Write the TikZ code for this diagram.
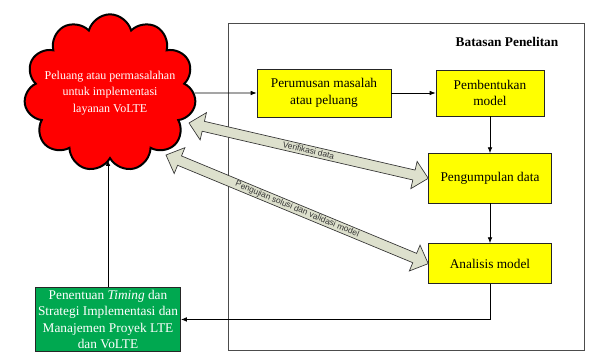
\documentclass[tikz,border=0pt]{standalone}
\usepackage{fontspec}
\setmainfont{Liberation Serif}
\newfontfamily\labelfont{Liberation Sans}
\usetikzlibrary{shapes.symbols,arrows.meta,calc}
\definecolor{cloudred}{RGB}{255,0,0}
\definecolor{boxyellow}{RGB}{255,255,0}
\definecolor{boxgreen}{RGB}{0,168,80}
\definecolor{flowgray}{RGB}{221,224,205}
% block arrow with two heads between two points, label on it
\newcommand{\flowarrow}[3]{%
\path[flow] let \p1=(#1), \p2=(#2), \n1={atan2(\y2-\y1,\x2-\x1)}, \n2={veclen(\x2-\x1,\y2-\y1)} in
  [shift={(\p1)}, rotate=\n1] (0,0) -- (11pt,10.5pt) -- (11pt,3.8pt) -- ({\n2-11pt},3.8pt) -- ({\n2-11pt},10.5pt)
  -- ({\n2},0pt) -- ({\n2-11pt},-10.5pt) -- ({\n2-11pt},-3.8pt) -- (11pt,-3.8pt) -- (11pt,-10.5pt) -- cycle;
\path (#1) -- (#2) node[midway, flow label] {#3};}
\begin{document}
\begin{tikzpicture}
[x=0.75pt, y=0.75pt, node distance=64pt, font=\fontsize{10}{12.4}\selectfont, >={Latex[length=4.5pt,width=3.5pt]}]
\tikzstyle{stagebox}=[rectangle, draw=black!85, fill=boxyellow, line width=0.6pt, align=center, inner sep=2pt]
\tikzstyle{link}=[->, line width=0.6pt]
\tikzstyle{flow}=[draw=black!80, fill=flowgray, line width=0.5pt]
\tikzstyle{flow label}=[font=\labelfont\fontsize{6.3}{7}\selectfont, text=black!80, sloped, inner sep=0pt]

\clip (0,0) rectangle (589,-352);
\draw[black!70, line width=0.6pt] (228,-23) rectangle (584,-350);
\node[anchor=east, font=\bfseries\fontsize{10}{12}\selectfont] (batas) at (563,-42) {Batasan Penelitan};

\node[cloud, cloud puffs=11, aspect=1.07, draw, line width=1.5pt, fill=cloudred,
      minimum width=129pt, minimum height=118pt, inner sep=0pt] (peluang) at (110,-93) {};
\node[text=white, align=center, font=\fontsize{9}{12.4}\selectfont] (peluangtext) at (peluang.center)
      {Peluang atau permasalahan\\ untuk implementasi\\ layanan VoLTE};
\coordinate (verifend) at (189,-123);
\coordinate (ujiend) at (166,-155);

\node[stagebox, minimum width=100.5pt, minimum height=36pt]	(perumusan)	at (324,-93)	{Perumusan masalah\\ atau peluang};
\node[stagebox, minimum width=81pt, minimum height=34.5pt]	(pembentukan)	[right of=perumusan, node distance=124.5pt]	{Pembentukan\\ model};
\node[stagebox, minimum width=92pt, minimum height=37pt]	(pengumpulan)	[below of=pembentukan]	{Pengumpulan data};
\node[stagebox, minimum width=92pt, minimum height=30pt]	(analisis)	[below of=pengumpulan]	{Analisis model};

\node[draw=black!85, fill=boxgreen, text=white, align=center, minimum width=108pt, inner sep=2pt, anchor=north]
      (strategi) at (108,-287) {Penentuan \textit{Timing} dan\\ Strategi Implementasi dan\\ Manajemen Proyek LTE\\ dan VoLTE};

\draw[link] (peluang.east) -- (perumusan.west);
\draw[link] (perumusan) -- (pembentukan);
\draw[link] (pembentukan) -- (pengumpulan);
\draw[link] (pengumpulan) -- (analisis);
\draw[link] (analisis.south) |- (strategi.east);
\draw[link] (strategi.north) -- (strategi.north |- peluang.south);

\flowarrow{verifend}{pengumpulan.west}{Verifikasi data}
\flowarrow{ujiend}{analisis.west}{Pengujian solusi dan validasi model}
\end{tikzpicture}
\end{document}
